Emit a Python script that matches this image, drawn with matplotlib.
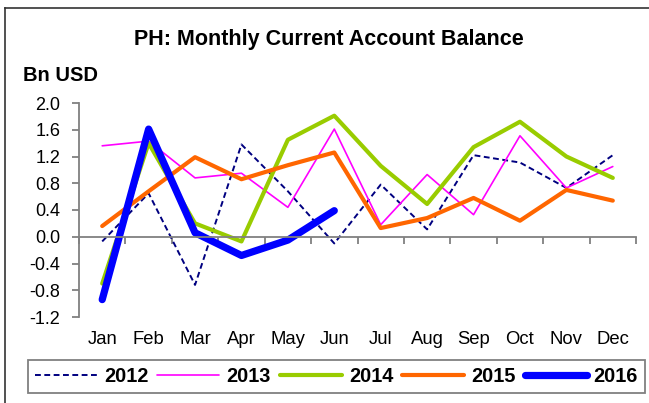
import matplotlib
matplotlib.use("Agg")
import matplotlib.pyplot as plt
from matplotlib.lines import Line2D
import numpy as np

plt.rcParams['font.family'] = ['Liberation Sans', 'DejaVu Sans']

months = ["Jan", "Feb", "Mar", "Apr", "May", "Jun",
          "Jul", "Aug", "Sep", "Oct", "Nov", "Dec"]

ca_2012 = [-0.07, 0.65, -0.72, 1.38, 0.68, -0.10, 0.78, 0.11, 1.22, 1.11, 0.73, 1.22]
ca_2013 = [1.36, 1.43, 0.88, 0.95, 0.44, 1.61, 0.18, 0.93, 0.33, 1.51, 0.73, 1.05]
ca_2014 = [-0.70, 1.40, 0.20, -0.07, 1.45, 1.81, 1.06, 0.49, 1.34, 1.72, 1.20, 0.88]
ca_2015 = [0.16, 0.68, 1.19, 0.86, 1.07, 1.26, 0.13, 0.28, 0.58, 0.24, 0.70, 0.54]
ca_2016 = [-0.94, 1.61, 0.06, -0.28, -0.05, 0.39]

y_ticks = [-1.2, -0.8, -0.4, 0.0, 0.4, 0.8, 1.2, 1.6, 2.0]

W, H = 649, 403
fig = plt.figure(figsize=(W / 100, H / 100), dpi=100)
fig.patch.set_facecolor("white")

# frame lines along the top and left edges of the canvas
fig.add_artist(Line2D([5 / W, 1], [1 - 8 / H, 1 - 8 / H], color="#333333", lw=1.2))
fig.add_artist(Line2D([5 / W, 5 / W], [0, 1 - 8 / H], color="#333333", lw=1.2))

ax = fig.add_axes([79 / W, 1 - 317 / H, (636 - 79) / W, (317 - 103) / H])

x = np.arange(len(months))
common = dict(solid_capstyle="round", solid_joinstyle="round")
ax.plot(x, ca_2012, color="#000080", lw=1.4, ls=(0, (3.0, 1.8)), label="2012",
        dash_capstyle="butt")
ax.plot(x, ca_2013, color="#FF00FF", lw=1.2, label="2013", **common)
ax.plot(x, ca_2014, color="#99CC00", lw=3.0, label="2014", **common)
ax.plot(x, ca_2015, color="#FF6600", lw=3.0, label="2015", **common)
ax.plot(np.arange(len(ca_2016)), ca_2016, color="#0000FF", lw=5.2, label="2016", **common)

ax.set_xlim(-0.5, len(months) - 0.5)
ax.set_ylim(-1.2, 2.0)

axis_grey = "#808080"
for side in ("top", "right"):
    ax.spines[side].set_visible(False)
ax.spines["left"].set_color(axis_grey)
ax.spines["left"].set_linewidth(1.3)
ax.spines["bottom"].set_position(("data", 0))
ax.spines["bottom"].set_color(axis_grey)
ax.spines["bottom"].set_linewidth(1.3)

ax.set_yticks(y_ticks)
ax.set_yticklabels([f"{v:.1f}" for v in y_ticks])
ax.tick_params(axis="y", direction="out", length=5, width=1.3, color=axis_grey,
               pad=8.5, labelsize=13, labelcolor="black")

# category boundaries get the tick marks, month names sit at category centres
ax.set_xticks(np.arange(-0.5, len(months), 1.0))
ax.set_xticklabels([])
ax.tick_params(axis="x", which="major", direction="out", length=5, width=1.3,
               color=axis_grey)
ax.set_xticks(x, minor=True)
ax.set_xticklabels(months, minor=True)
ax.tick_params(axis="x", which="minor", length=0, pad=68, labelsize=13.3,
               labelcolor="black")

fig.text(329 / W, 1 - 45 / H, "PH: Monthly Current Account Balance",
         ha="center", va="baseline", fontsize=15.5, fontweight="bold")
fig.text(23 / W, 1 - 81 / H, "Bn USD", ha="left", va="baseline",
         fontsize=14.5, fontweight="bold")

leg = fig.legend(loc="center", bbox_to_anchor=((30 + 643) / 2 / W, 1 - 376 / H),
                 ncol=5, frameon=True, fancybox=False, framealpha=1,
                 prop={"weight": "bold", "size": 14.4},
                 handlelength=3.1, handletextpad=0.35, columnspacing=0.45,
                 borderpad=0.35, borderaxespad=0)
leg.get_frame().set_edgecolor(axis_grey)
leg.get_frame().set_linewidth(1.3)

fig.savefig("out.png", dpi=100)
